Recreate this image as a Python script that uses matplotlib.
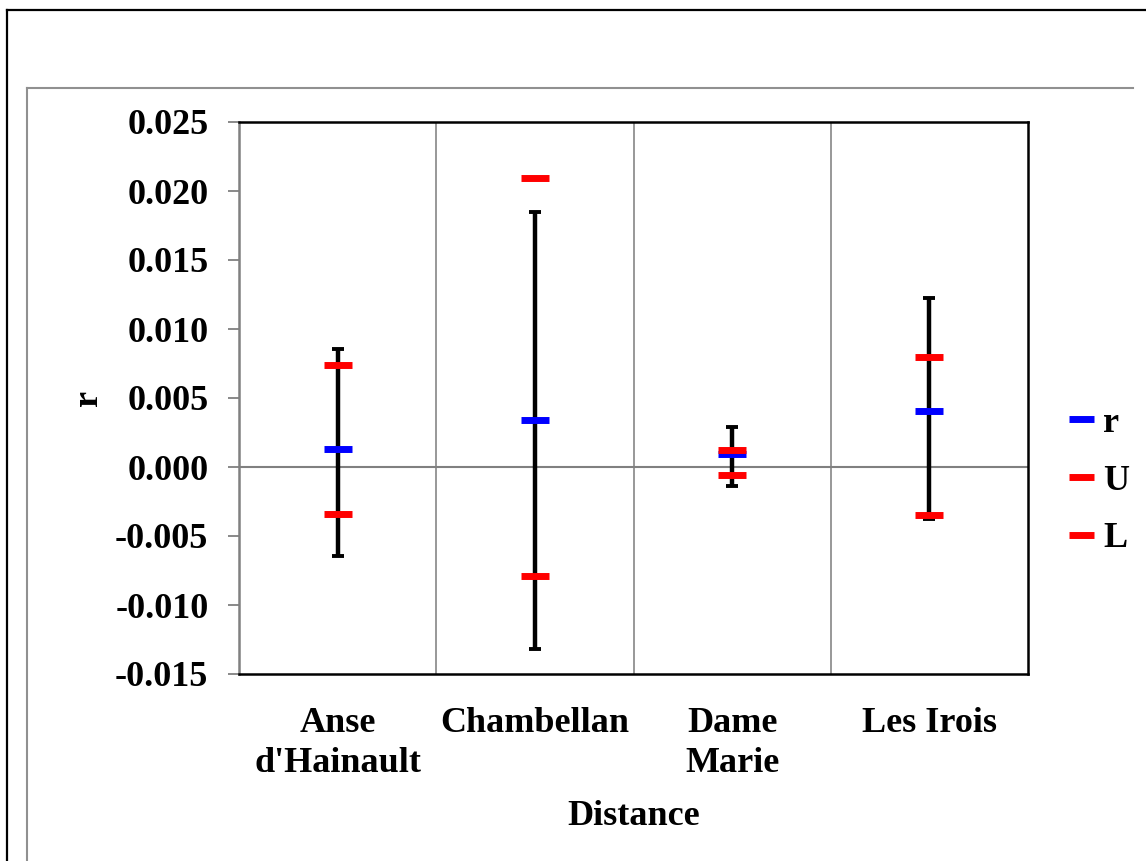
import matplotlib.pyplot as plt
from matplotlib.lines import Line2D

plt.rcParams["font.family"] = ["Liberation Serif", "DejaVu Serif"]
plt.rcParams["font.weight"] = "bold"
plt.rcParams["axes.unicode_minus"] = False

# Data
sites = ["Anse\nd'Hainault", "Chambellan", "Dame\nMarie", "Les Irois"]
r_vals = [0.0013, 0.0034, 0.00092, 0.00406]
u_vals = [0.00739, 0.02094, 0.00123, 0.00797]
l_vals = [-0.0034, -0.00788, -0.0006, -0.00348]
bar_hi = [0.00855, 0.01848, 0.0029, 0.01225]
bar_lo = [-0.00645, -0.01321, -0.00138, -0.00379]
yticks = [-0.015, -0.010, -0.005, 0.000, 0.005, 0.010, 0.015, 0.020, 0.025]

W, H = 1146, 861
fig = plt.figure(figsize=(W / 100, H / 100), dpi=100, facecolor="white")

# document frames around the chart
def px_line(xs, ys, color, lw):
    fig.add_artist(Line2D([x / W for x in xs], [1 - y / H for y in ys],
                          color=color, lw=lw, transform=fig.transFigure))

px_line([7, 7], [10, H], "black", 1.6)
px_line([7, W], [10, 10], "black", 1.6)
px_line([27, 27], [88, H], "#909090", 1.5)
px_line([27, 1133], [88, 88], "#909090", 1.5)

ax = fig.add_axes([239 / W, 1 - 674 / H, (1028 - 239) / W, (674 - 122) / H])

x = list(range(1, len(sites) + 1))
err_lo = [r - lo for r, lo in zip(r_vals, bar_lo)]
err_hi = [hi - r for r, hi in zip(r_vals, bar_hi)]
ax.errorbar(x, r_vals, yerr=[err_lo, err_hi], fmt="none", ecolor="black",
            elinewidth=3.2, capsize=4.6, capthick=2.8, zorder=3)

ax.plot(x, r_vals, ls="none", marker="_", ms=20, mew=5, color="#0000ff", label="r", zorder=4)
ax.plot(x, u_vals, ls="none", marker="_", ms=20, mew=5, color="#ff0000", label="U", zorder=5)
ax.plot(x, l_vals, ls="none", marker="_", ms=20, mew=5, color="#ff0000", label="L", zorder=5)

ax.set_xlim(0.5, len(sites) + 0.5)
ax.set_ylim(-0.015, 0.025)
ax.set_yticks(yticks)
ax.set_yticklabels([f"{v:.3f}" for v in yticks])
ax.set_xticks(x)
ax.set_xticklabels(sites, fontsize=26, fontweight="bold", linespacing=1.28)
ax.tick_params(axis="x", length=0, pad=24)
ax.tick_params(axis="y", direction="out", length=8, width=1.3, color="#808080",
               labelsize=26, pad=14)

# category separators and zero line
for b in x[:-1]:
    ax.axvline(b + 0.5, color="#909090", lw=1.3, zorder=1)
ax.axhline(0, color="#808080", lw=1.5, zorder=1)

for side in ["top", "right", "bottom"]:
    ax.spines[side].set_color("black")
    ax.spines[side].set_linewidth(1.8)
ax.spines["left"].set_color("#808080")
ax.spines["left"].set_linewidth(1.8)

ax.set_xlabel("Distance", fontsize=26, fontweight="bold")
ax.xaxis.set_label_coords(0.5, -0.228)
ax.set_ylabel("r", fontsize=26, fontweight="bold")
ax.yaxis.set_label_coords(-0.17, 0.5)

leg = ax.legend(loc="center left", bbox_to_anchor=(1028 / W + 0.034, 1 - 481 / H),
                bbox_transform=fig.transFigure, frameon=False, fontsize=26,
                handlelength=0.75, handletextpad=0.25, labelspacing=0.68,
                markerscale=0.9, borderaxespad=0, borderpad=0)

fig.savefig("out.png", dpi=100, facecolor="white")
